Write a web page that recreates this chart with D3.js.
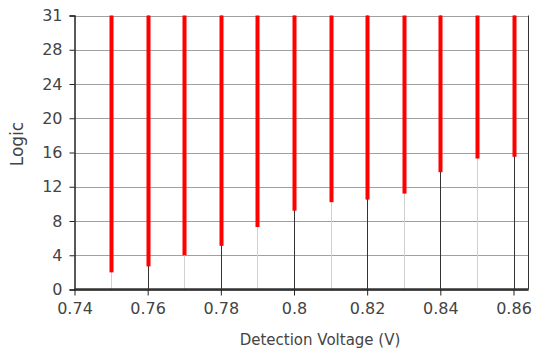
<!DOCTYPE html>
<html>
<head>
<meta charset="utf-8">
<script src="https://cdn.jsdelivr.net/npm/d3@7"></script>
<style>
  html, body { margin: 0; padding: 0; background: #fff; }
  svg text { font-family: "DejaVu Sans", sans-serif; fill: #444; }
</style>
</head>
<body>
<svg id="chart" width="533" height="348"></svg>
<script>
// Detection voltage steps and the lowest logic code reached at each
const voltages = [0.75, 0.76, 0.77, 0.78, 0.79, 0.80, 0.81, 0.82, 0.83, 0.84, 0.85, 0.86];
const logicLow = [2.0, 2.7, 4.0, 5.1, 7.3, 9.2, 10.2, 10.5, 11.2, 13.7, 15.3, 15.5];

// Axis ticks
const xMajorTicks = [0.74, 0.76, 0.78, 0.80, 0.82, 0.84, 0.86];
const xMinorTicks = [0.75, 0.77, 0.79, 0.81, 0.83, 0.85];
const yTickValues = [0, 4, 8, 12, 16, 20, 24, 28, 32];
const yTickLabels = ["0", "4", "8", "12", "16", "20", "24", "28", "31"];

const svg = d3.select("#chart");
const plotL = 74.5, plotR = 528.5, plotT = 15.5, plotB = 289.5;

const x = d3.scaleLinear().domain([0.74, 0.8641]).range([plotL, plotR]);
const y = d3.scaleLinear().domain([0, 32]).range([plotB, plotT]);
const yTop = y.domain()[1];

// Horizontal grid
svg.append("g").selectAll("line").data(yTickValues).join("line")
  .attr("x1", plotL).attr("x2", plotR)
  .attr("y1", d => Math.round(y(d)) + 0.5).attr("y2", d => Math.round(y(d)) + 0.5)
  .attr("stroke", "#a0a0a0").attr("stroke-width", 1);

// Vertical grid: light at minor steps, dark at major ticks
svg.append("g").selectAll("line").data(xMinorTicks).join("line")
  .attr("x1", d => Math.round(x(d)) + 0.5).attr("x2", d => Math.round(x(d)) + 0.5)
  .attr("y1", y(0)).attr("y2", plotT)
  .attr("stroke", "#d0d0d0").attr("stroke-width", 1);
svg.append("g").selectAll("line").data(xMajorTicks.slice(1)).join("line")
  .attr("x1", d => Math.round(x(d)) + 0.5).attr("x2", d => Math.round(x(d)) + 0.5)
  .attr("y1", y(0)).attr("y2", plotT)
  .attr("stroke", "#333").attr("stroke-width", 1);

// Right frame
svg.append("line")
  .attr("x1", plotR).attr("x2", plotR).attr("y1", plotT).attr("y2", plotB)
  .attr("stroke", "#333");

// Red range bars from the lowest code to the top of the range
svg.append("g").selectAll("rect").data(voltages).join("rect")
  .attr("x", d => Math.round(x(d)) + 0.5 - 2)
  .attr("width", 4)
  .attr("y", y(yTop))
  .attr("height", (d, i) => y(logicLow[i]) - y(yTop))
  .attr("fill", "#ff0000");

// Y axis
const yAxis = d3.axisLeft(y).tickValues(yTickValues)
  .tickFormat((d, i) => yTickLabels[i]).tickSize(5).tickPadding(7);
const gy = svg.append("g").attr("transform", `translate(${plotL},0)`).call(yAxis);
gy.select(".domain").attr("stroke", "#222").attr("stroke-width", 1.5);
gy.selectAll(".tick line").attr("stroke", "#222");
gy.selectAll("text").attr("font-size", 16).style("fill", "#444");

// X axis
const xAxis = d3.axisBottom(x).tickValues(xMajorTicks)
  .tickFormat(d3.format("~g")).tickSize(6).tickPadding(7);
const gx = svg.append("g").attr("transform", `translate(0,${plotB})`).call(xAxis);
gx.select(".domain").attr("stroke", "#333").attr("stroke-width", 2.5).attr("d", `M${plotL},0H${plotR}`);
gx.selectAll(".tick line").attr("stroke", "#222");
gx.selectAll("text").attr("font-size", 16).style("fill", "#444");

// Axis titles
svg.append("text")
  .attr("x", 320).attr("y", 345)
  .attr("text-anchor", "middle").attr("font-size", 15)
  .text("Detection Voltage (V)");
svg.append("text")
  .attr("transform", "translate(23,144) rotate(-90)")
  .attr("text-anchor", "middle").attr("font-size", 17)
  .text("Logic");
</script>
</body>
</html>
